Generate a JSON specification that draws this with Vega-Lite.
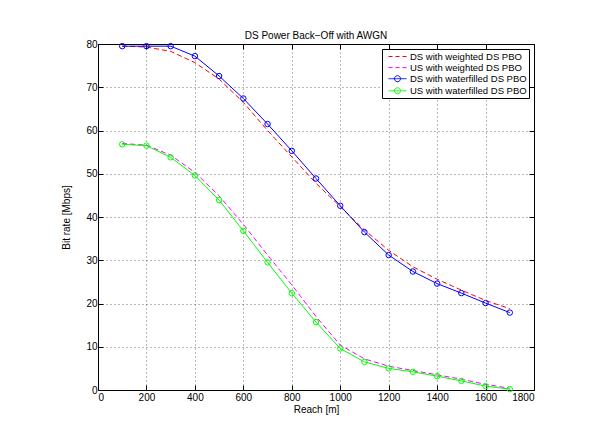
{
  "$schema": "https://vega.github.io/schema/vega-lite/v6.json",
  "width": 436,
  "height": 346,
  "autosize": {"type": "none"},
  "padding": {"left": 98, "top": 44, "right": 68, "bottom": 58},
  "background": "white",
  "title": {"text": "DS Power Back−Off with AWGN", "fontSize": 10, "fontWeight": "normal", "font": "Liberation Sans", "color": "black", "anchor": "middle", "offset": -2},
  "config": {
    "font": "Liberation Sans",
    "view": {"stroke": "black", "strokeWidth": 1},
    "axis": {"labelFont": "Liberation Sans", "labelFontSize": 10, "labelColor": "black", "tickColor": "black", "titleFont": "Liberation Sans", "titleFontSize": 10, "titleFontWeight": "normal", "titleColor": "black", "domain": false}
  },
  "data": {"values": [
    {"s": "DS with weighted DS PBO", "x": 100, "y": 79.5},
    {"s": "DS with weighted DS PBO", "x": 200, "y": 79.3},
    {"s": "DS with weighted DS PBO", "x": 300, "y": 78.3},
    {"s": "DS with weighted DS PBO", "x": 400, "y": 75.7},
    {"s": "DS with weighted DS PBO", "x": 500, "y": 71.9},
    {"s": "DS with weighted DS PBO", "x": 600, "y": 66.5},
    {"s": "DS with weighted DS PBO", "x": 700, "y": 60.0},
    {"s": "DS with weighted DS PBO", "x": 800, "y": 53.9},
    {"s": "DS with weighted DS PBO", "x": 900, "y": 47.8},
    {"s": "DS with weighted DS PBO", "x": 1000, "y": 42.4},
    {"s": "DS with weighted DS PBO", "x": 1100, "y": 37.0},
    {"s": "DS with weighted DS PBO", "x": 1200, "y": 32.3},
    {"s": "DS with weighted DS PBO", "x": 1300, "y": 28.5},
    {"s": "DS with weighted DS PBO", "x": 1400, "y": 25.6},
    {"s": "DS with weighted DS PBO", "x": 1500, "y": 23.1},
    {"s": "DS with weighted DS PBO", "x": 1600, "y": 20.7},
    {"s": "DS with weighted DS PBO", "x": 1700, "y": 18.8},
    {"s": "US with weighted DS PBO", "x": 100, "y": 57.0},
    {"s": "US with weighted DS PBO", "x": 200, "y": 56.6},
    {"s": "US with weighted DS PBO", "x": 300, "y": 54.3},
    {"s": "US with weighted DS PBO", "x": 400, "y": 50.3},
    {"s": "US with weighted DS PBO", "x": 500, "y": 44.9},
    {"s": "US with weighted DS PBO", "x": 600, "y": 38.3},
    {"s": "US with weighted DS PBO", "x": 700, "y": 31.2},
    {"s": "US with weighted DS PBO", "x": 800, "y": 24.3},
    {"s": "US with weighted DS PBO", "x": 900, "y": 17.0},
    {"s": "US with weighted DS PBO", "x": 1000, "y": 10.4},
    {"s": "US with weighted DS PBO", "x": 1100, "y": 7.2},
    {"s": "US with weighted DS PBO", "x": 1200, "y": 5.5},
    {"s": "US with weighted DS PBO", "x": 1300, "y": 4.5},
    {"s": "US with weighted DS PBO", "x": 1400, "y": 3.5},
    {"s": "US with weighted DS PBO", "x": 1500, "y": 2.5},
    {"s": "US with weighted DS PBO", "x": 1600, "y": 1.3},
    {"s": "US with weighted DS PBO", "x": 1700, "y": 0.4},
    {"s": "DS with waterfilled DS PBO", "x": 100, "y": 79.5},
    {"s": "DS with waterfilled DS PBO", "x": 200, "y": 79.5},
    {"s": "DS with waterfilled DS PBO", "x": 300, "y": 79.5},
    {"s": "DS with waterfilled DS PBO", "x": 400, "y": 77.2},
    {"s": "DS with waterfilled DS PBO", "x": 500, "y": 72.6},
    {"s": "DS with waterfilled DS PBO", "x": 600, "y": 67.4},
    {"s": "DS with waterfilled DS PBO", "x": 700, "y": 61.5},
    {"s": "DS with waterfilled DS PBO", "x": 800, "y": 55.3},
    {"s": "DS with waterfilled DS PBO", "x": 900, "y": 48.9},
    {"s": "DS with waterfilled DS PBO", "x": 1000, "y": 42.6},
    {"s": "DS with waterfilled DS PBO", "x": 1100, "y": 36.5},
    {"s": "DS with waterfilled DS PBO", "x": 1200, "y": 31.2},
    {"s": "DS with waterfilled DS PBO", "x": 1300, "y": 27.4},
    {"s": "DS with waterfilled DS PBO", "x": 1400, "y": 24.6},
    {"s": "DS with waterfilled DS PBO", "x": 1500, "y": 22.4},
    {"s": "DS with waterfilled DS PBO", "x": 1600, "y": 20.1},
    {"s": "DS with waterfilled DS PBO", "x": 1700, "y": 17.9},
    {"s": "US with waterfilled DS PBO", "x": 100, "y": 56.8},
    {"s": "US with waterfilled DS PBO", "x": 200, "y": 56.5},
    {"s": "US with waterfilled DS PBO", "x": 300, "y": 53.8},
    {"s": "US with waterfilled DS PBO", "x": 400, "y": 49.6},
    {"s": "US with waterfilled DS PBO", "x": 500, "y": 43.9},
    {"s": "US with waterfilled DS PBO", "x": 600, "y": 36.8},
    {"s": "US with waterfilled DS PBO", "x": 700, "y": 29.5},
    {"s": "US with waterfilled DS PBO", "x": 800, "y": 22.4},
    {"s": "US with waterfilled DS PBO", "x": 900, "y": 15.7},
    {"s": "US with waterfilled DS PBO", "x": 1000, "y": 9.6},
    {"s": "US with waterfilled DS PBO", "x": 1100, "y": 6.5},
    {"s": "US with waterfilled DS PBO", "x": 1200, "y": 5.0},
    {"s": "US with waterfilled DS PBO", "x": 1300, "y": 4.2},
    {"s": "US with waterfilled DS PBO", "x": 1400, "y": 3.2},
    {"s": "US with waterfilled DS PBO", "x": 1500, "y": 2.1},
    {"s": "US with waterfilled DS PBO", "x": 1600, "y": 0.9},
    {"s": "US with waterfilled DS PBO", "x": 1700, "y": 0.2}
  ]},
  "resolve": {"axis": {"x": "independent", "y": "independent"}},
  "layer": [
    {
      "transform": [{"filter": "indexof(datum.s, 'weighted') >= 0"}],
      "mark": {"type": "line", "strokeWidth": 1, "strokeDash": [5, 3]},
      "encoding": {
        "x": {"field": "x", "type": "quantitative", "scale": {"domain": [0, 1800], "nice": false},
              "axis": {"orient": "bottom", "values": [0,200,400,600,800,1000,1200,1400,1600,1800], "format": "d", "title": "Reach [m]", "tickSize": -5, "labelPadding": 7, "grid": true, "gridDash": [1, 3], "gridColor": "#000", "gridOpacity": 0.55, "titlePadding": 2}},
        "y": {"field": "y", "type": "quantitative", "scale": {"domain": [0, 80], "nice": false},
              "axis": {"orient": "left", "values": [0,10,20,30,40,50,60,70,80], "format": "d", "title": "Bit rate [Mbps]", "tickSize": -5, "labelPadding": 6, "grid": true, "gridDash": [1, 3], "gridColor": "#000", "gridOpacity": 0.55, "titlePadding": 14}},
        "color": {"field": "s", "type": "nominal",
          "scale": {"domain": ["DS with weighted DS PBO", "US with weighted DS PBO", "DS with waterfilled DS PBO", "US with waterfilled DS PBO"], "range": ["#ff0000", "#ff00ff", "#0000ff", "#00ff00"]},
          "legend": {"title": null, "orient": "top-right", "offset": 5, "symbolSize": 100, "symbolStrokeWidth": 1, "labelFontSize": 9.5, "labelColor": "black", "labelFont": "Liberation Sans", "labelOffset": 15, "padding": 2, "rowPadding": 1.1, "strokeColor": "black", "fillColor": "white", "cornerRadius": 0,
            "encode": {"symbols": {"update": {
              "shape": {"signal": "indexof(datum.value, 'waterfilled') >= 0 ? 'M-0.2,0H3.4M2.2,0A0.6,0.6 0 1 1 1.0,0A0.6,0.6 0 1 1 2.2,0' : 'M-0.2,0H3.4'"},
              "strokeDash": {"signal": "indexof(datum.value, 'weighted') >= 0 ? [4, 3] : [1, 0]"},
              "fill": {"value": "transparent"}
            }}}}
        },
        "detail": {"field": "s"}
      }
    },
    {
      "transform": [{"filter": "indexof(datum.s, 'waterfilled') >= 0"}],
      "mark": {"type": "line", "strokeWidth": 1},
      "encoding": {
        "x": {"field": "x", "type": "quantitative", "axis": {"orient": "top", "values": [0,200,400,600,800,1000,1200,1400,1600,1800], "labels": false, "tickSize": -5, "grid": false, "title": null}},
        "y": {"field": "y", "type": "quantitative", "axis": {"orient": "right", "values": [0,10,20,30,40,50,60,70,80], "labels": false, "tickSize": -5, "grid": false, "title": null}},
        "color": {"field": "s", "type": "nominal"}
      }
    },
    {
      "transform": [{"filter": "indexof(datum.s, 'waterfilled') >= 0"}],
      "mark": {"type": "point", "filled": false, "size": 30, "strokeWidth": 1, "opacity": 1},
      "encoding": {
        "x": {"field": "x", "type": "quantitative", "axis": null},
        "y": {"field": "y", "type": "quantitative", "axis": null},
        "color": {"field": "s", "type": "nominal"}
      }
    }
  ]
}
